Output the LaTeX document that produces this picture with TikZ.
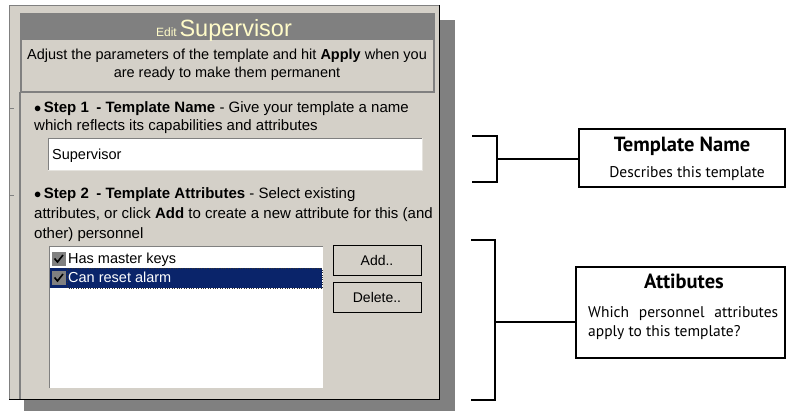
\documentclass[tikz,border=0pt]{standalone}
\usepackage{fontspec}
\setmainfont{Liberation Sans}
\newfontfamily\notefont{PT Sans}
\usetikzlibrary{positioning}
\definecolor{panelgray}{HTML}{D4D0C8}
\definecolor{darkgray}{HTML}{808080}
\definecolor{titleyellow}{HTML}{FFFBC8}
\definecolor{selnavy}{HTML}{0A246A}
\tikzset{
  uitext/.style={inner sep=0pt, anchor=base west, font=\fontsize{14.5}{18}\selectfont},
  steptext/.style={inner sep=0pt, anchor=base west, font=\fontsize{15}{18}\selectfont},
  button/.style={draw=black, fill=panelgray, minimum width=88pt, minimum height=30pt, inner sep=0pt, font=\fontsize{14}{16}\selectfont},
  notebox/.style={draw=black, line width=1.6pt, fill=white, inner sep=0pt},
  notehead/.style={anchor=base, inner sep=0pt, font=\notefont\fontsize{20.5}{24}\selectfont\bfseries},
  notetext/.style={inner sep=0pt, font=\notefont\fontsize{15.5}{19}\selectfont},
  bracket/.style={line width=1.3pt}
}
\begin{document}
\begin{tikzpicture}[x=1pt,y=-1pt]
  \useasboundingbox (0,0) rectangle (786,411);
  % window with shadow
  \fill[darkgray] (24,20) rectangle (455,411);
  \fill[panelgray] (9,5) rectangle (439,399);
  \draw[darkgray] (9,399) -- (9,5) -- (439,5);
  \draw[black] (9,399) -- (439,399) -- (439,5);
  \draw[darkgray, line width=1.2pt] (20,92) -- (20,399);
  \draw[darkgray] (10,108) -- (14,108);
  \draw[darkgray] (10,195) -- (14,195);
  % title bar and description
  \fill[darkgray] (20,13) rectangle (435,93);
  \fill[panelgray] (22,40) rectangle (433,91);
  \node (title) at (224,37) [anchor=base, inner sep=0pt, text=titleyellow]
    {{\fontsize{12}{14}\selectfont Edit} {\fontsize{23.5}{26}\selectfont Supervisor}};
  \node (descr) at (227,65) [align=center, inner sep=0pt, font=\fontsize{14.5}{18}\selectfont]
    {Adjust the parameters of the template and hit \textbf{Apply} when you\\are ready to make them permanent};
  % step 1
  \node[steptext] (step1) at (34,113) {$\bullet$\,\textbf{Step 1\enspace- Template Name} - Give your template a name};
  \node[steptext] (step1b) at (34,131) {which reflects its capabilities and attributes};
  \fill[white] (48,138) rectangle (422,170);
  \draw[darkgray] (48,170) -- (48,138) -- (422,138);
  \draw[panelgray!60] (48,170) -- (422,170) -- (422,138);
  \node[uitext] (namefield) at (52,160) {Supervisor};
  % step 2
  \node[steptext] (step2) at (34,199) {$\bullet$\,\textbf{Step 2\enspace- Template Attributes} - Select existing};
  \node[steptext] (step2b) at (34,219) {attributes, or click \textbf{Add} to create a new attribute for this (and};
  \node[steptext] (step2c) at (34,239) {other) personnel};
  % attribute list
  \fill[white] (49,246) rectangle (323,388);
  \draw[darkgray] (49,388) -- (49,246) -- (323,246);
  \fill[selnavy] (50,268) rectangle (322,288);
  \draw[black!80, dotted] (67,268) rectangle (322,288);
  \foreach \y/\t/\c in {252/Has master keys/black, 271/Can reset alarm/white} {
    \draw[fill=white, darkgray] (52,\y) rectangle (65,\y+13);
    \draw[line width=1.6pt, black] (54.5,\y+6.5) -- (57.5,\y+10) -- (63,\y+3);
    \node[uitext, text=\c] at (68,\y+11.5) {\t};
  }
  \node[button] (addbtn) at (377,260) {Add..};
  \node[button] (delbtn) at (377,297) {Delete..};
  % notes on the right
  \node[notebox, minimum width=206pt, minimum height=58pt] (namebox) at (682,158) {};
  \node[notehead] (nametitle) at (682,152) {Template Name};
  \node[notetext, anchor=base] (nametext) at (687,178) {Describes this template};
  \node[notebox, minimum width=209pt, minimum height=91pt] (attrbox) at (680.5,312.5) {};
  \node[notehead] (attrtitle) at (684,289) {Attibutes};
  \node[notetext, anchor=base west] (attrtext) at (588,317)
    {\hbox to 190pt{Which\hfill personnel\hfill attributes}};
  \node[notetext, anchor=base west] (attrtextb) at (588,336) {apply to this template?};
  % brackets
  \coordinate (n1) at (497,159);
  \coordinate (n1t) at (472,136);
  \coordinate (n1b) at (472,182);
  \draw[bracket] (n1t) -| (n1) |- (n1b);
  \draw[bracket] (n1) -- (namebox.west |- n1);
  \coordinate (n2) at (495,322);
  \coordinate (n2t) at (471,240);
  \coordinate (n2b) at (471,400);
  \draw[bracket] (n2t) -| (n2) |- (n2b);
  \draw[bracket] (n2) -- (attrbox.west |- n2);
\end{tikzpicture}
\end{document}
